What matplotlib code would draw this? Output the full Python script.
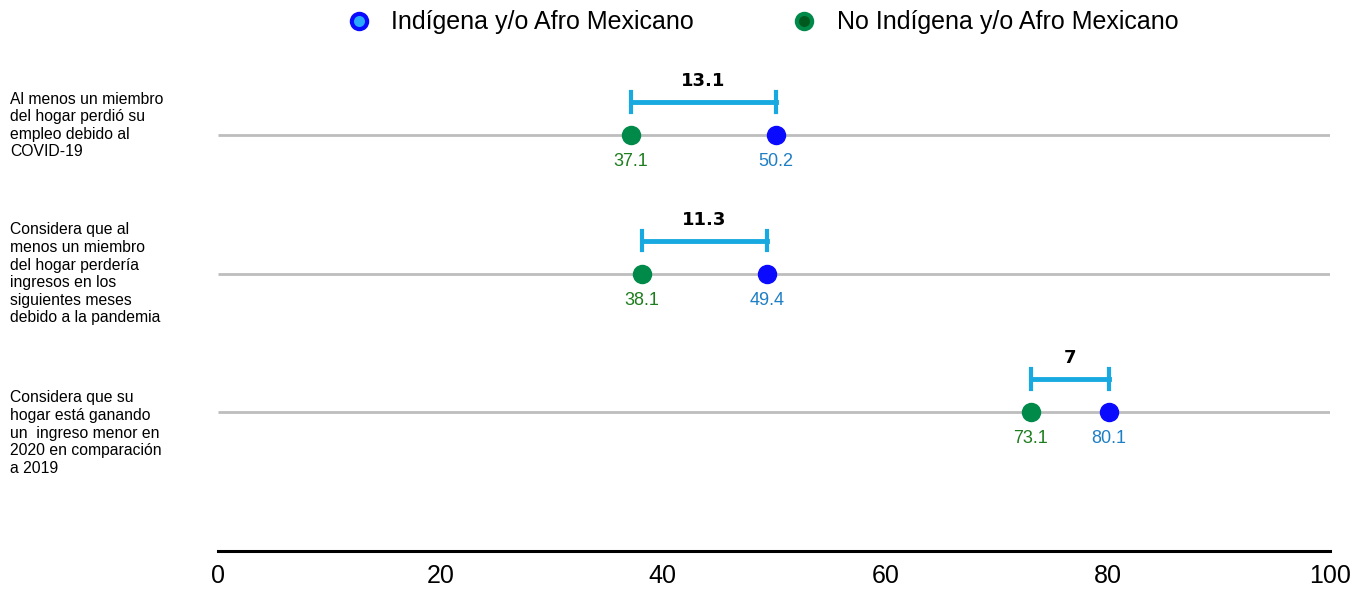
import matplotlib.pyplot as plt
from matplotlib.lines import Line2D

plt.rcParams['font.family'] = ['Liberation Sans', 'DejaVu Sans']

categories = ['Al menos un miembro\ndel hogar perdió su\nempleo debido al\nCOVID-19',
              'Considera que al\nmenos un miembro\ndel hogar perdería\ningresos en los\nsiguientes meses\ndebido a la pandemia',
              'Considera que su\nhogar está ganando\nun  ingreso menor en\n2020 en comparación\na 2019']
indigena = [50.2, 49.4, 80.1]
no_indigena = [37.1, 38.1, 73.1]
gaps = ['13.1', '11.3', '7']
xticks = [0, 20, 40, 60, 80, 100]

blue = '#0a0aff'
green = '#008a4a'
blue_txt = '#1f7fc4'
green_txt = '#1e7d1e'
bracket = '#17a9e0'

fig = plt.figure(figsize=(13.67, 5.9), dpi=100)
ax = fig.add_axes([0.1595, 0.066, 0.8135, 0.834])

rows = [3, 2, 1]
label_shift = [0.07, 0.0, -0.15]
for i, y in enumerate(rows):
    ax.plot([0, 100], [y, y], color='#bdbdbd', lw=2, zorder=1, solid_capstyle='butt')
    ax.plot(no_indigena[i], y, 'o', ms=13, color=green, zorder=3)
    ax.plot(indigena[i], y, 'o', ms=13, color=blue, zorder=3)
    ax.text(no_indigena[i], y - 0.19, f'{no_indigena[i]}', color=green_txt,
            ha='center', va='center', fontsize=13)
    ax.text(indigena[i], y - 0.19, f'{indigena[i]}', color=blue_txt,
            ha='center', va='center', fontsize=13)
    # bracket between the two groups
    by = y + 0.24
    ax.plot([no_indigena[i], indigena[i]], [by, by], color=bracket, lw=3.5, zorder=2)
    for xv in (no_indigena[i], indigena[i]):
        ax.plot([xv, xv], [by - 0.07, by + 0.07], color=bracket, lw=3, zorder=2)
    ax.text((no_indigena[i] + indigena[i]) / 2, y + 0.39, gaps[i], ha='center',
            va='center', fontsize=13, fontweight='semibold', family='DejaVu Sans')
    ax.text(-18.7, y + label_shift[i], categories[i],
            ha='left', va='center', fontsize=11.3, linespacing=1.22, clip_on=False)

ax.set_xlim(0, 100)
ax.set_ylim(0, 3.55)
ax.set_xticks(xticks)
ax.set_xticklabels([str(v) for v in xticks], fontsize=18)
ax.tick_params(axis='x', length=0, pad=9)
ax.set_yticks([])
for s in ['top', 'right', 'left']:
    ax.spines[s].set_visible(False)
ax.spines['bottom'].set_linewidth(2.2)
ax.spines['bottom'].set_color('black')

handles = [Line2D([], [], marker='o', ls='', ms=11, markerfacecolor='#2aa8ff',
                  markeredgecolor=blue, markeredgewidth=3),
           Line2D([], [], marker='o', ls='', ms=11, markerfacecolor='#005a20',
                  markeredgecolor=green, markeredgewidth=3)]
fig.legend(handles, ['Indígena y/o Afro Mexicano', 'No Indígena y/o Afro Mexicano'],
           loc='center', bbox_to_anchor=(0.553, 0.962), ncol=2, frameon=False,
           fontsize=18, columnspacing=3.4, handletextpad=0.3)

fig.savefig('out.png', dpi=100)
